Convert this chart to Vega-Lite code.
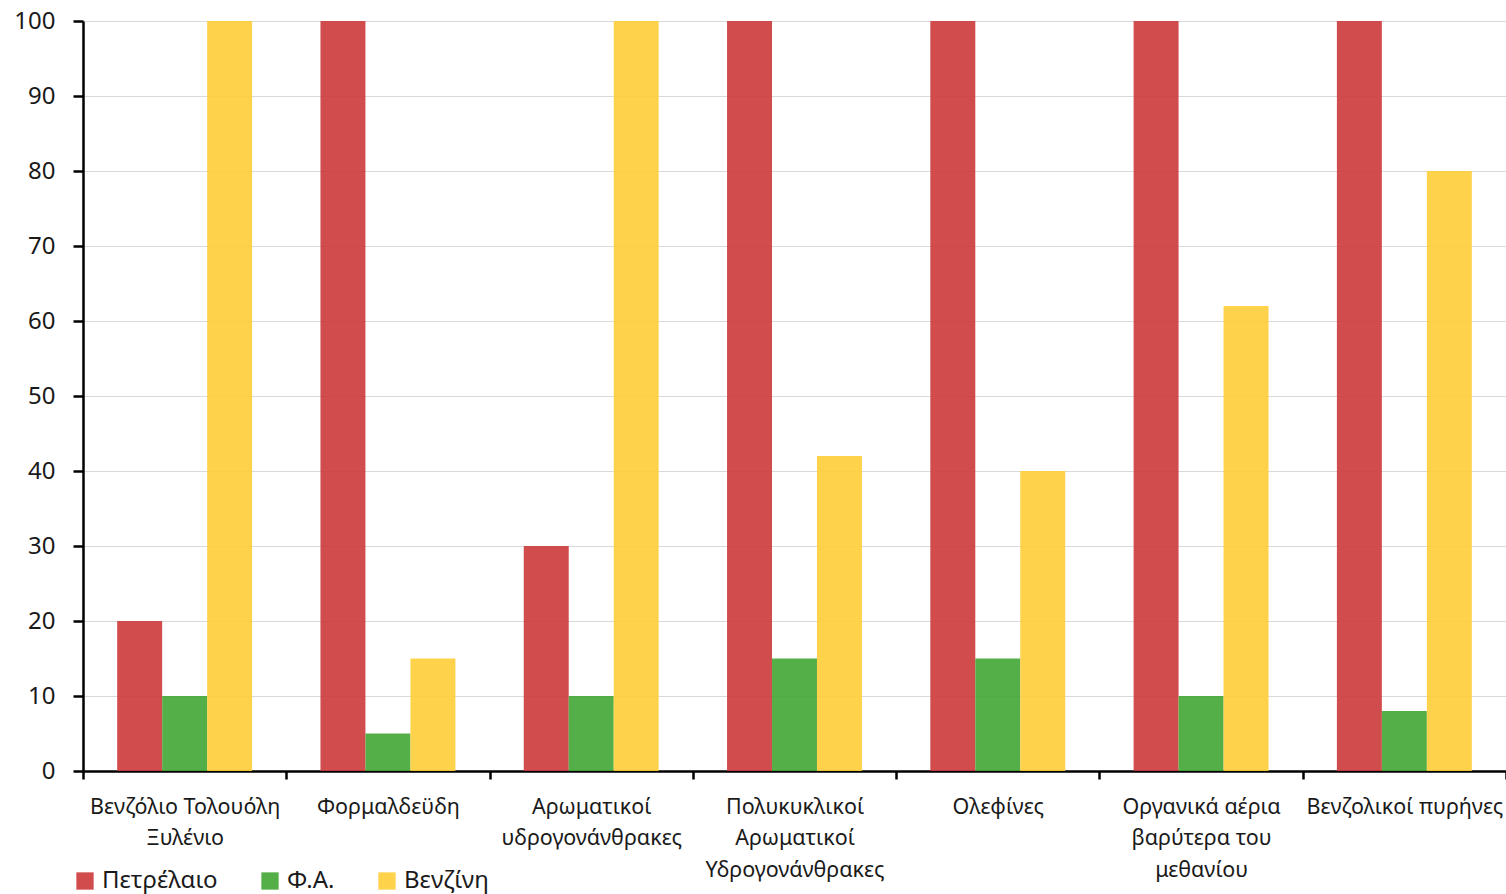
{
  "$schema": "https://vega.github.io/schema/vega-lite/v6.json",
  "width": 1423,
  "height": 750,
  "autosize": {"type": "none"},
  "padding": {"left": 83, "top": 21, "right": 0, "bottom": 123},
  "background": "white",
  "config": {
    "font": "Noto Sans",
    "view": {"stroke": null},
    "axis": {"labelFont": "Noto Sans", "labelColor": "#1a1a1a"}
  },
  "data": {
    "values": [
      {"cat": "Βενζόλιο Τολουόλη Ξυλένιο", "fuel": "Πετρέλαιο", "value": 20},
      {"cat": "Βενζόλιο Τολουόλη Ξυλένιο", "fuel": "Φ.Α.", "value": 10},
      {"cat": "Βενζόλιο Τολουόλη Ξυλένιο", "fuel": "Βενζίνη", "value": 100},
      {"cat": "Φορμαλδεϋδη", "fuel": "Πετρέλαιο", "value": 100},
      {"cat": "Φορμαλδεϋδη", "fuel": "Φ.Α.", "value": 5},
      {"cat": "Φορμαλδεϋδη", "fuel": "Βενζίνη", "value": 15},
      {"cat": "Αρωματικοί υδρογονάνθρακες", "fuel": "Πετρέλαιο", "value": 30},
      {"cat": "Αρωματικοί υδρογονάνθρακες", "fuel": "Φ.Α.", "value": 10},
      {"cat": "Αρωματικοί υδρογονάνθρακες", "fuel": "Βενζίνη", "value": 100},
      {"cat": "Πολυκυκλικοί Αρωματικοί Υδρογονάνθρακες", "fuel": "Πετρέλαιο", "value": 100},
      {"cat": "Πολυκυκλικοί Αρωματικοί Υδρογονάνθρακες", "fuel": "Φ.Α.", "value": 15},
      {"cat": "Πολυκυκλικοί Αρωματικοί Υδρογονάνθρακες", "fuel": "Βενζίνη", "value": 42},
      {"cat": "Ολεφίνες", "fuel": "Πετρέλαιο", "value": 100},
      {"cat": "Ολεφίνες", "fuel": "Φ.Α.", "value": 15},
      {"cat": "Ολεφίνες", "fuel": "Βενζίνη", "value": 40},
      {"cat": "Οργανικά αέρια βαρύτερα του μεθανίου", "fuel": "Πετρέλαιο", "value": 100},
      {"cat": "Οργανικά αέρια βαρύτερα του μεθανίου", "fuel": "Φ.Α.", "value": 10},
      {"cat": "Οργανικά αέρια βαρύτερα του μεθανίου", "fuel": "Βενζίνη", "value": 62},
      {"cat": "Βενζολικοί πυρήνες", "fuel": "Πετρέλαιο", "value": 100},
      {"cat": "Βενζολικοί πυρήνες", "fuel": "Φ.Α.", "value": 8},
      {"cat": "Βενζολικοί πυρήνες", "fuel": "Βενζίνη", "value": 80}
    ]
  },
  "mark": {"type": "bar", "opacity": 0.9},
  "encoding": {
    "x": {
      "field": "cat",
      "type": "nominal",
      "sort": null,
      "title": null,
      "scale": {"paddingInner": 0, "paddingOuter": 0},
      "axis": {
        "labelAngle": 0,
        "tickBand": "extent",
        "domainColor": "black",
        "domainWidth": 2.5,
        "tickColor": "black",
        "tickWidth": 2.5,
        "tickSize": 8,
        "labelPadding": 17,
        "labelFontSize": 21.5,
        "labelLineHeight": 31.5,
        "labelLimit": 300,
        "labelBaseline": "top",
        "labelExpr": "datum.value == 'Βενζόλιο Τολουόλη Ξυλένιο' ? ['Βενζόλιο Τολουόλη', 'Ξυλένιο'] : datum.value == 'Αρωματικοί υδρογονάνθρακες' ? ['Αρωματικοί', 'υδρογονάνθρακες'] : datum.value == 'Πολυκυκλικοί Αρωματικοί Υδρογονάνθρακες' ? ['Πολυκυκλικοί', 'Αρωματικοί', 'Υδρογονάνθρακες'] : datum.value == 'Οργανικά αέρια βαρύτερα του μεθανίου' ? ['Οργανικά αέρια', 'βαρύτερα του', 'μεθανίου'] : datum.value"
      }
    },
    "xOffset": {
      "field": "fuel",
      "type": "nominal",
      "sort": ["Πετρέλαιο", "Φ.Α.", "Βενζίνη"],
      "scale": {"paddingInner": 0, "paddingOuter": 0.76}
    },
    "y": {
      "field": "value",
      "type": "quantitative",
      "title": null,
      "scale": {"domain": [0, 100], "nice": false},
      "axis": {
        "values": [0, 10, 20, 30, 40, 50, 60, 70, 80, 90, 100],
        "grid": true,
        "gridColor": "#d9d9d9",
        "gridWidth": 1,
        "domainColor": "black",
        "domainWidth": 2.5,
        "tickColor": "black",
        "tickWidth": 2.5,
        "tickSize": 10,
        "labelPadding": 18,
        "labelFontSize": 24
      }
    },
    "color": {
      "field": "fuel",
      "type": "nominal",
      "sort": ["Πετρέλαιο", "Φ.Α.", "Βενζίνη"],
      "scale": {"domain": ["Πετρέλαιο", "Φ.Α.", "Βενζίνη"], "range": ["#cc3a3a", "#42a634", "#ffcd39"]},
      "legend": {
        "title": null,
        "orient": "none",
        "direction": "horizontal",
        "legendX": -10,
        "legendY": 848,
        "symbolType": "square",
        "symbolSize": 300,
        "symbolOpacity": 0.9,
        "symbolStrokeWidth": 0,
        "labelFontSize": 24,
        "labelColor": "#1a1a1a",
        "labelOffset": 5,
        "columnPadding": 40
      }
    }
  }
}
